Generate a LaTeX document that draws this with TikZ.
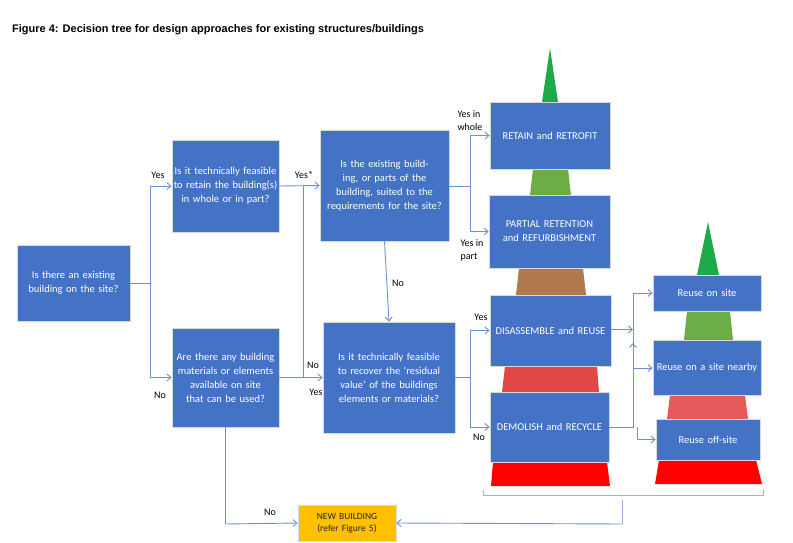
\documentclass[tikz,border=0pt]{standalone}
\usepackage{fontspec}
\setmainfont{Carlito}
\newfontfamily\titlefont{Liberation Sans}
\usetikzlibrary{arrows.meta}
\definecolor{bx}{HTML}{4472C4}
\definecolor{ln}{HTML}{6F8FCF}
\definecolor{gr}{HTML}{1FAA4A}
\definecolor{gr2}{HTML}{6AAE45}
\definecolor{br}{HTML}{B07A4E}
\definecolor{rd}{HTML}{E24848}
\definecolor{rr}{HTML}{FF0000}
\definecolor{yl}{HTML}{FFC000}
\begin{document}
\begin{tikzpicture}[x=1pt,y=-1pt,
 box/.style={draw=gray!30,line width=0.8pt,fill=bx,text=white,align=center,inner sep=1pt,font=\fontsize{10.5}{14}\selectfont},
 con/.style={draw=ln,line width=0.9pt},
 arr/.style={con,-{Straight Barb[length=4pt,width=7pt]}},
 lab/.style={font=\fontsize{10}{13}\selectfont,align=left,inner sep=0pt}]
\useasboundingbox (0,0) rectangle (793,543);
\node[anchor=west,font=\titlefont\bfseries\fontsize{11}{13}\selectfont,inner sep=0pt] (title) at (12,30) {Figure 4: Decision tree for design approaches for existing structures/buildings};
% pyramids
\fill[gr] (550,48) -- (558,102) -- (542,102) -- cycle;
\fill[gr2] (533,169) -- (568,169) -- (571,195) -- (530,195) -- cycle;
\fill[br] (519,268) -- (583,268) -- (586,295) -- (516,295) -- cycle;
\fill[rd] (505,366) -- (597,366) -- (599,392) -- (502,392) -- cycle;
\fill[rr] (493,462) -- (607,462) -- (610,486) -- (491,486) -- cycle;
\fill[gr] (708,222) -- (719,275) -- (697,275) -- cycle;
\fill[gr2] (687,311) -- (730,311) -- (733,340) -- (684,340) -- cycle;
\fill[rd!90!white] (670,395) -- (745,395) -- (748,419) -- (667,419) -- cycle;
\fill[rr] (659,460) -- (756,460) -- (762,484) -- (655,484) -- cycle;
% boxes
\node[box,minimum width=113pt,minimum height=76pt,text width=107pt] (A) at (73.5,283) {Is there an existing building on the site?};
\node[box,minimum width=107pt,minimum height=92pt,text width=105pt] (B) at (225.5,186) {Is it technically feasible to retain the building(s) in whole or in part?};
\node[box,minimum width=107pt,minimum height=99pt,text width=105pt] (C) at (225.5,377.5) {Are there any building materials or elements available on site that can be used?};
\node[box,minimum width=129pt,minimum height=111pt,text width=123pt] (D) at (384.5,185.5) {Is the existing building, or parts of the building, suited to the requirements for the site?};
\node[box,minimum width=132pt,minimum height=111pt,text width=126pt] (E) at (389,377.5) {Is it technically feasible to recover the ‘residual value’ of the buildings elements or materials?};
\node[box,minimum width=120pt,minimum height=67pt,text width=114pt] (R1) at (550,135.5) {RETAIN and RETROFIT};
\node[box,minimum width=119pt,minimum height=73pt,text width=119pt] (R2) at (549.5,231.5) {PARTIAL RETENTION and REFURBISHMENT};
\node[box,minimum width=121pt,minimum height=71pt,text width=115pt] (R3) at (550.5,330.5) {DISASSEMBLE and REUSE};
\node[box,minimum width=119pt,minimum height=70pt,text width=113pt] (R4) at (549.5,427) {DEMOLISH and RECYCLE};
\node[box,minimum width=108pt,minimum height=36pt,text width=102pt] (S1) at (707,293) {Reuse on site};
\node[box,minimum width=108pt,minimum height=55pt,text width=102pt] (S2) at (707,367.5) {Reuse on a site nearby};
\node[box,minimum width=104pt,minimum height=41pt,text width=98pt] (S3) at (708,439.5) {Reuse off-site};
\node[box,fill=yl,draw=gray!30,text=black!85,minimum width=98pt,minimum height=36pt,text width=92pt,font=\fontsize{9.5}{12}\selectfont] (NB) at (347,523) {NEW BUILDING (refer Figure 5)};
% junctions
\coordinate (j1) at (150,283);
\coordinate (j2) at (303,186);
\coordinate (j3) at (303,377.5);
\coordinate (j4) at (470,186);
\coordinate (j5) at (470,377.5);
\coordinate (j6) at (226,524);
\coordinate (j7) at (633,427);
\coordinate (j8) at (633,293);
\coordinate (j9) at (633,343);
\coordinate (j10) at (633,368);
\coordinate (j11) at (637,427);
\coordinate (j12) at (622,500);
\coordinate (j13) at (622,524);
\coordinate (j14) at (633,329.5);
% connectors
\draw[con] (A.east) -- (j1);
\draw[arr] (j1) |- (B.west);
\draw[arr] (j1) |- (C.west);
\draw[arr] (B.east) -- (D.west);
\draw[con] (j2) -- (j3);
\draw[arr] (C.east) -- (E.west);
\draw[arr] (D.south) -- (E.north);
\draw[con] (D.east |- j4) -- (j4);
\draw[arr] (j4) |- (R1.west);
\draw[arr] (j4) |- (R2.west);
\draw[con] (E.east |- j5) -- (j5);
\draw[arr] (j5) |- (R3.west);
\draw[arr] (j5) |- (R4.west);
\draw[con] (C.south) -- (C.south |- j6);
\draw[arr] (C.south |- j6) -- (NB.west);
\draw[arr] (R3.east |- j14) -- (j14);
\draw[con] (R4.east |- j7) -- (j7) -- (j8);
\draw[arr] (j7) -- (j9);
\draw[arr] (j8) -- (S1.west |- j8);
\draw[arr] (j10) -- (S2.west |- j10);
\draw[arr] (j11) |- (S3.west);
% bracket
\draw[con,line width=0.7pt,draw=ln!70] (483,490) -- (483,495) -- (763,495) -- (763,490);
\draw[con,line width=0.7pt,draw=ln!70] (j12) -- (j13);
\draw[arr] (j13) -- (NB.east);
% labels
\node[lab] (l1) at (158,175) {Yes};
\node[lab] (l2) at (160,395) {No};
\node[lab] (l3) at (304,175) {Yes*};
\node[lab] (l4) at (313,365) {No};
\node[lab] (l5) at (316,392) {Yes};
\node[lab] (l6) at (398,283) {No};
\node[lab] (l7) at (270,512) {No};
\node[lab,align=left] (l8) at (470,121) {Yes in\\whole};
\node[lab,align=left] (l9) at (472,250) {Yes in\\part};
\node[lab] (l10) at (481,317) {Yes};
\node[lab] (l11) at (479,437) {No};
\end{tikzpicture}
\end{document}
